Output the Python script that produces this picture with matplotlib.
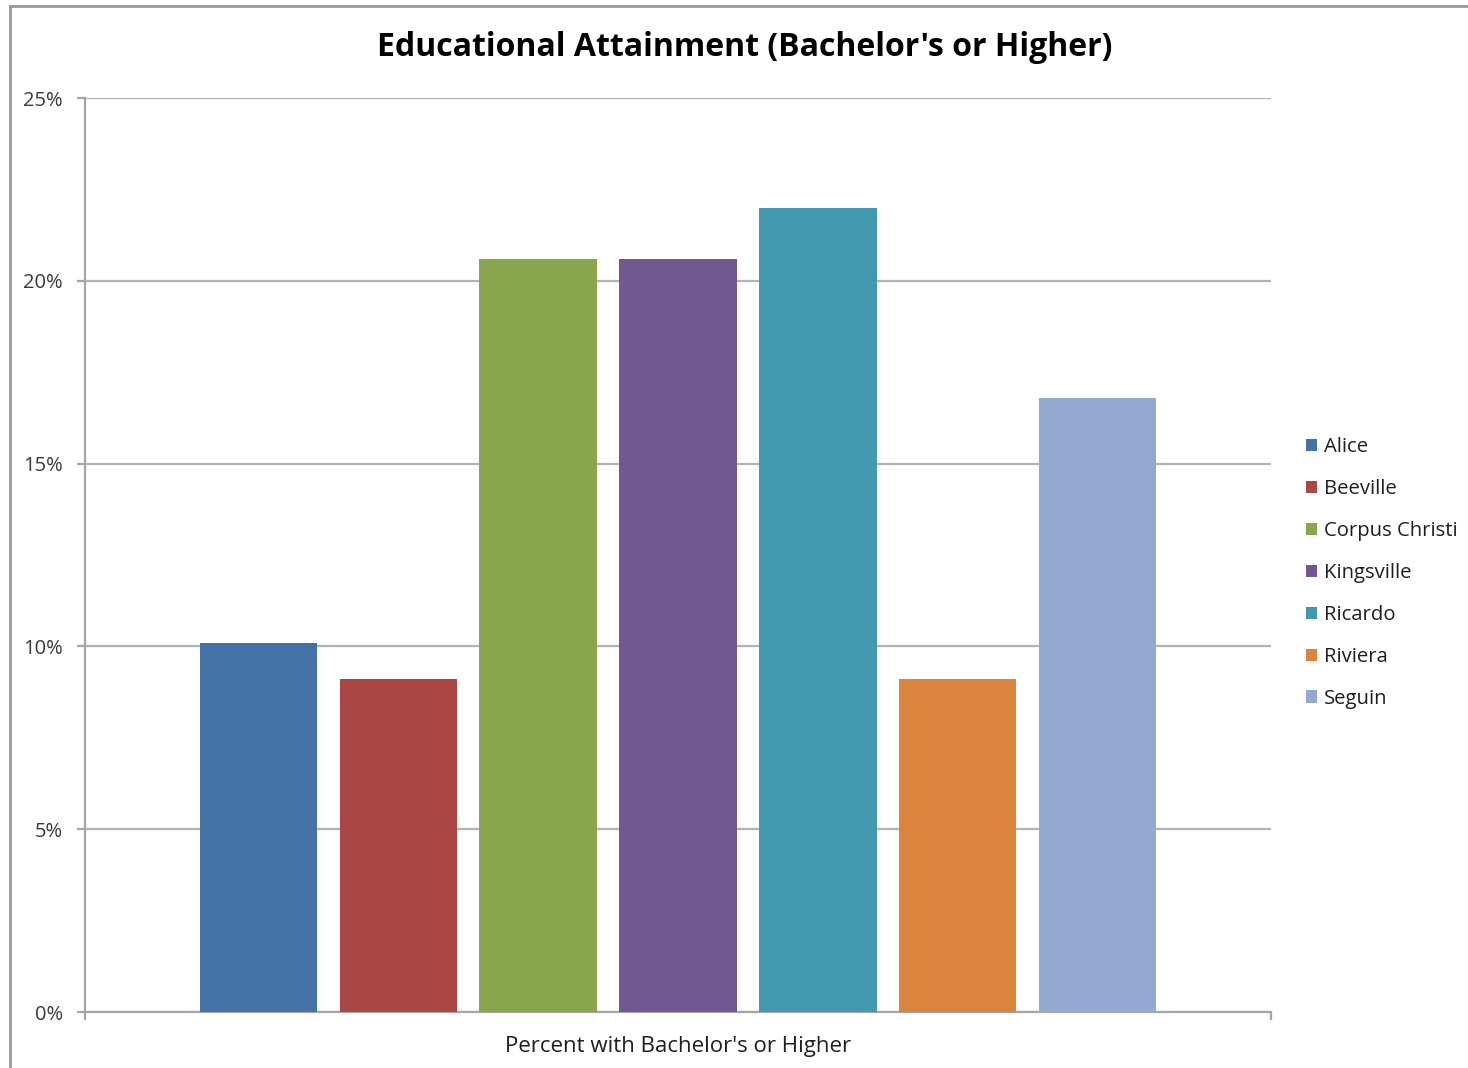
import matplotlib
matplotlib.use("Agg")
import matplotlib.pyplot as plt
from matplotlib.lines import Line2D
from matplotlib.ticker import FuncFormatter

# values (percent with bachelor's or higher)
cities = ["Alice", "Beeville", "Corpus Christi", "Kingsville", "Ricardo", "Riviera", "Seguin"]
pct = [10.1, 9.1, 20.6, 20.6, 22.0, 9.1, 16.8]
colors = ["#4572A7", "#AA4643", "#89A54E", "#71588F", "#4198AF", "#DB843D", "#93A9CF"]
yticks = [0, 5, 10, 15, 20, 25]

plt.rcParams['font.family'] = ['Open Sans', 'DejaVu Sans']

fig = plt.figure(figsize=(14.68, 10.68), dpi=100)
ax = fig.add_axes([85/1468, 56/1068, 1186/1468, 914/1068])

for i, (c, v, col) in enumerate(zip(cities, pct, colors)):
    ax.bar(i, v, width=0.836, color=col, label=c, zorder=3)

ax.set_xlim(3 - 4.236, 3 + 4.236)
ax.set_ylim(0, 25)
ax.set_yticks(yticks)
ax.yaxis.set_major_formatter(FuncFormatter(lambda v, p: f"{v:.0f}%"))
ax.grid(axis="y", color="#b3b3b3", linewidth=1.6, zorder=0)

ax.set_xticks([3 - 4.236, 3 + 4.236])
ax.set_xticklabels(["", ""])
ax.set_xlabel("Percent with Bachelor's or Higher", fontsize=16, color="#1f1f1f", labelpad=8)

for s in ["top", "right"]:
    ax.spines[s].set_visible(False)
for s in ["left", "bottom"]:
    ax.spines[s].set_color("#a6a6a6")
    ax.spines[s].set_linewidth(1.6)
ax.tick_params(axis="both", color="#a6a6a6", width=1.6, length=6)
ax.tick_params(axis="y", labelsize=14.5, labelcolor="#3a3a3a", pad=10)

fig.text(745/1468, 1 - 47/1068, "Educational Attainment (Bachelor's or Higher)",
         ha="center", va="center", fontsize=23, fontweight="bold", color="#000000")

leg = ax.legend(loc="center left", bbox_to_anchor=(1306/1468, 1 - 573/1068),
                bbox_transform=fig.transFigure, frameon=False, fontsize=14.6,
                handlelength=0.55, handleheight=0.55, handletextpad=0.35,
                labelspacing=1.08, borderaxespad=0, borderpad=0)
for t in leg.get_texts():
    t.set_color("#1f1f1f")

# outer chart frame (only top and left edges show in the picture)
fig.add_artist(Line2D([10/1468, 1], [1 - 6/1068, 1 - 6/1068], transform=fig.transFigure,
                      color="#9a9a9a", linewidth=2))
fig.add_artist(Line2D([10/1468, 10/1468], [0, 1 - 6/1068], transform=fig.transFigure,
                      color="#9a9a9a", linewidth=2))

plt.savefig("out.png", dpi=100)
